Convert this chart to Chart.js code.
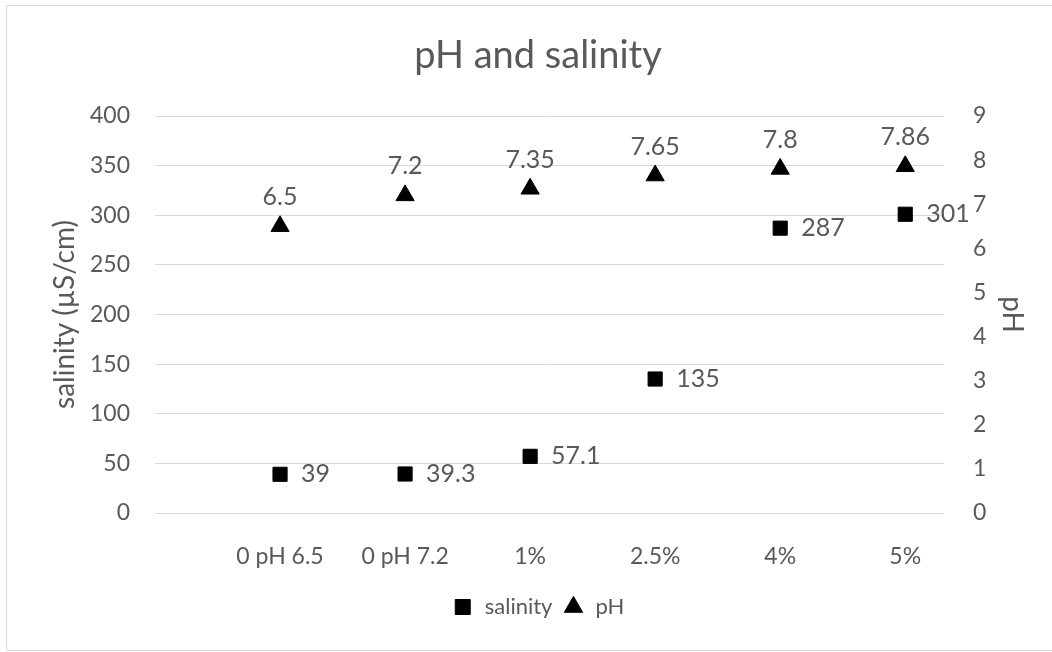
<!DOCTYPE html>
<html lang="en">
<head>
<meta charset="UTF-8">
<title>pH and salinity</title>
<style>
    html, body {
        margin: 0;
        padding: 0;
        background: #fff;
        overflow: hidden;
    }
    #frame {
        position: absolute;
        left: 6px;
        top: 5px;
        width: 1060px;
        height: 646px;
        border: 1px solid #d9d9d9;
        box-sizing: border-box;
    }
    #chart {
        position: absolute;
        left: 0;
        top: 0;
    }
</style>
<script src="https://cdn.jsdelivr.net/npm/chart.js"></script>
</head>
<body>

<div id="frame"></div>
<!-- the chart box runs a little past the right edge of the window -->
<canvas id="chart" width="1076" height="652"></canvas>

<script>
    // concentration steps along the x axis
    const categories = ['0 pH 6.5', '0 pH 7.2', '1%', '2.5%', '4%', '5%'];
    // salinity in µS/cm (left axis)
    const salinity = [39, 39.3, 57.1, 135, 287, 301];
    // pH (right axis)
    const ph = [6.5, 7.2, 7.35, 7.65, 7.8, 7.86];

    const salinityTicks = { min: 0, max: 400, step: 50 };
    const phTicks = { min: 0, max: 9, step: 1 };

    const FONT = 'Lato, "Open Sans", sans-serif';
    const GREY = '#595959';

    // value labels: pH above the triangles, salinity right of the squares
    const valueLabels = {
        id: 'valueLabels',
        afterDraw(chart) {
            const ctx = chart.ctx;
            ctx.save();
            ctx.font = '25px ' + FONT;
            ctx.fillStyle = GREY;
            ctx.textBaseline = 'middle';

            chart.getDatasetMeta(0).data.forEach((pt, i) => {
                ctx.textAlign = 'left';
                ctx.fillText(String(salinity[i]), pt.x + 21, pt.y);
            });
            chart.getDatasetMeta(1).data.forEach((pt, i) => {
                ctx.textAlign = 'center';
                ctx.fillText(String(ph[i]), pt.x, pt.y - 29);
            });
            ctx.restore();
        }
    };

    const points = (vals) => vals.map((v, i) => ({ x: i + 1, y: v }));

    new Chart(document.getElementById('chart'), {
        type: 'scatter',
        data: {
            datasets: [{
                label: 'salinity',
                data: points(salinity),
                yAxisID: 'y',
                pointStyle: 'rect',
                pointRadius: 10,
                borderWidth: 1,
                backgroundColor: '#000',
                borderColor: '#000'
            }, {
                label: 'pH',
                data: points(ph),
                yAxisID: 'y1',
                pointStyle: 'triangle',
                pointRadius: 10.5,
                borderWidth: 1,
                backgroundColor: '#000',
                borderColor: '#000'
            }]
        },
        options: {
            responsive: false,
            devicePixelRatio: 1,
            animation: false,
            events: [],
            layout: { padding: { left: 0, right: 0, top: 0, bottom: 24 } },
            plugins: {
                title: {
                    display: true,
                    text: 'pH and salinity',
                    color: GREY,
                    font: { family: FONT, size: 38, weight: 'normal' },
                    padding: { top: 33, bottom: 37.4 }
                },
                legend: {
                    position: 'bottom',
                    labels: {
                        usePointStyle: true,
                        boxHeight: 15,
                        color: GREY,
                        font: { family: FONT, size: 22 },
                        padding: 10
                    }
                },
                tooltip: { enabled: false }
            },
            scales: {
                x: {
                    type: 'linear',
                    min: 0,
                    max: 6.31,
                    grid: { display: false },
                    border: { display: false },
                    afterBuildTicks: (scale) => {
                        scale.ticks = categories.map((c, i) => ({ value: i + 1 }));
                    },
                    afterFit: (scale) => { scale.height = 73; },
                    ticks: {
                        autoSkip: false,
                        maxRotation: 0,
                        padding: 22,
                        color: GREY,
                        font: { family: FONT, size: 23 },
                        callback: (v) => categories[v - 1] || ''
                    }
                },
                y: {
                    position: 'left',
                    min: salinityTicks.min,
                    max: salinityTicks.max,
                    grid: { color: '#d9d9d9', lineWidth: 1, drawTicks: false },
                    border: { display: false },
                    afterFit: (scale) => { scale.width = 155; },
                    ticks: {
                        stepSize: salinityTicks.step,
                        padding: 25,
                        color: GREY,
                        font: { family: FONT, size: 23 }
                    },
                    title: {
                        display: true,
                        text: 'salinity (µS/cm)',
                        color: GREY,
                        font: { family: FONT, size: 28 },
                        padding: { top: 48, bottom: 0 }
                    }
                },
                y1: {
                    position: 'right',
                    min: phTicks.min,
                    max: phTicks.max,
                    grid: { display: false },
                    border: { display: false },
                    afterFit: (scale) => { scale.width = 132; },
                    ticks: {
                        stepSize: phTicks.step,
                        padding: 21,
                        color: GREY,
                        font: { family: FONT, size: 23 }
                    },
                    title: {
                        display: true,
                        text: 'pH',
                        color: GREY,
                        font: { family: FONT, size: 28 },
                        padding: { top: 47, bottom: 0 }
                    }
                }
            }
        },
        plugins: [valueLabels]
    });
</script>

</body>
</html>
